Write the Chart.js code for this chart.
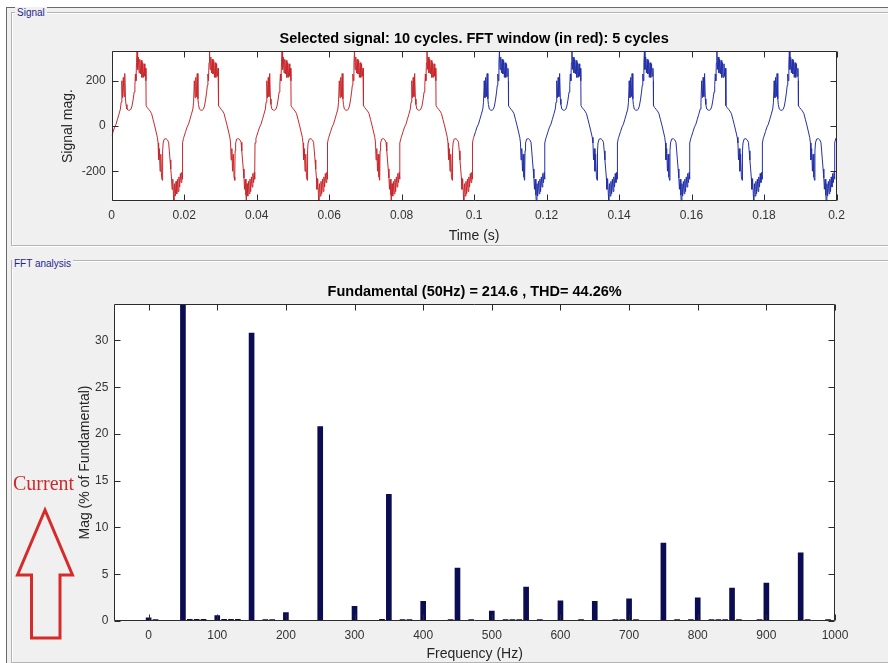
<!DOCTYPE html>
<html><head><meta charset="utf-8">
<script src="https://cdn.jsdelivr.net/npm/chart.js@4.4.1/dist/chart.umd.min.js"></script>
<style>
html,body{margin:0;padding:0;background:#fff;}
body{width:888px;height:663px;position:relative;overflow:hidden;font-family:"Liberation Sans",Arial,sans-serif;}
#frame{position:absolute;left:6px;top:7px;width:890px;height:660px;background:#f0f0f0;border-top:1px solid #6a6a6a;border-left:1px solid #6a6a6a;}
.panel{position:absolute;border:1px solid #b4b4b4;box-shadow:inset 1px 1px 0 #ffffff,1px 1px 0 #ffffff;}
.plabel{position:absolute;font-size:10px;color:#1f1f8f;background:#f0f0f0;padding:0 2px;line-height:11px;white-space:nowrap;}
canvas{position:absolute;left:0;}
svg{position:absolute;left:0;top:0;pointer-events:none;}
</style></head>
<body>
<div id="frame"></div>
<div class="panel" style="left:11px;top:12px;width:900px;height:232px;"></div>
<div class="plabel" style="left:15px;top:7px;">Signal</div>
<div class="panel" style="left:11px;top:260px;width:900px;height:401px;"></div>
<div class="plabel" style="left:12px;top:258px;">FFT analysis</div>
<canvas id="sig" width="888" height="250" style="top:0px;"></canvas>
<canvas id="fft" width="888" height="413" style="top:250px;"></canvas>
<svg width="888" height="663">
  <text x="13" y="490" font-family="Liberation Serif, Times New Roman, serif" font-size="20" fill="#cc2b2b">Current</text>
  <polygon points="45,510 17.5,575 31.5,575 31.5,638 60,638 60,575 72.5,575" fill="none" stroke="#d62b2b" stroke-width="3" stroke-linejoin="miter"/>
</svg>
<script>
// ---------- Signal panel data (one period, in ms) ----------
const cycleTimeMs = [0.0,0.4,0.8,1.2,1.6,2.0,2.4,2.6,2.8,3.0,3.2,3.4,3.6,3.8,3.95,4.2,4.6,5.0,5.3,5.6,5.9,6.2,6.4,6.55,6.7,6.85,7.0,7.15,7.35,7.55,7.75,7.95,8.15,8.35,8.55,8.75,8.95,9.15,9.35,9.45,9.5,9.8,10.2,10.6,11.0,11.4,11.8,12.2,12.6,12.8,12.95,13.15,13.35,13.55,13.75,13.95,14.05,14.2,14.5,15.0,15.4,15.7,15.9,16.1,16.3,16.5,16.65,16.85,17.05,17.15,17.35,17.55,17.75,17.95,18.15,18.35,18.55,18.75,18.95,19.15,19.35,19.45,19.55,19.8];
const cycleValue  = [-45,-25,-5,8,30,52,75,105,200,125,215,130,232,120,95,75,70,70,74,88,115,150,180,230,200,280,332,250,305,235,295,230,290,215,280,215,275,220,255,200,90,82,74,66,55,30,5,-22,-50,-75,-150,-100,-200,-125,-225,-240,-110,-75,-58,-56,-62,-72,-110,-150,-190,-230,-280,-235,-305,-332,-255,-310,-245,-300,-235,-290,-225,-270,-210,-250,-205,-235,-75,-55];
const cycleStartsS = [0,0.02,0.04,0.06,0.08,0.1,0.12,0.14,0.16,0.18];
const fftWindowEndS = 0.1;
const signalEndTimeS = 0.2;
const signalEndValue = -60;
const timeTicks = [0,0.02,0.04,0.06,0.08,0.1,0.12,0.14,0.16,0.18,0.2];
const signalTicks = [-200,0,200];

// ---------- FFT panel data ----------
const freqHz = [0,10,50,60,70,80,100,110,120,130,150,170,180,200,250,300,340,350,370,380,400,440,450,470,500,520,530,540,550,570,600,630,650,680,690,700,710,750,770,790,800,820,830,840,850,860,890,900,950,960,990];
const magPct = [0.35,0.15,100,0.18,0.18,0.18,0.57,0.18,0.18,0.18,30.8,0.15,0.15,0.89,20.8,1.57,0.18,13.55,0.15,0.15,2.1,0.15,5.66,0.15,1.07,0.15,0.15,0.15,3.63,0.15,2.17,0.15,2.1,0.15,0.15,2.38,0.15,8.32,0.15,0.15,2.49,0.15,0.15,0.15,3.52,0.15,0.15,4.06,7.29,0.15,0.15];
const freqTicks = [0,100,200,300,400,500,600,700,800,900,1000];
const magTicks = [0,5,10,15,20,25,30];

const FONT = "'Liberation Sans', Arial, sans-serif";
const TICK_COLOR = '#333333';

const plotBg = {id:'plotBg', beforeDraw(chart){
  const {ctx, chartArea:a} = chart;
  ctx.save(); ctx.fillStyle = '#ffffff';
  ctx.fillRect(a.left, a.top, a.right-a.left, a.bottom-a.top); ctx.restore();
}};
const matlabBox = {id:'matlabBox', afterDraw(chart){
  const {ctx, chartArea:a, scales} = chart;
  const L = Math.round(a.left)+0.5, R = Math.round(a.right)-0.5, T = Math.round(a.top)+0.5, B = Math.round(a.bottom)-0.5;
  const len = 6;
  ctx.save(); ctx.strokeStyle = '#2b2b2b'; ctx.lineWidth = 1;
  ctx.beginPath(); ctx.rect(L, T, R-L, B-T);
  scales.x.ticks.forEach(t => { const px = Math.round(scales.x.getPixelForValue(t.value))+0.5;
    ctx.moveTo(px, B); ctx.lineTo(px, B-len); ctx.moveTo(px, T); ctx.lineTo(px, T+len); });
  scales.y.ticks.forEach(t => { const py = Math.round(scales.y.getPixelForValue(t.value))+0.5;
    ctx.moveTo(L, py); ctx.lineTo(L+len, py); ctx.moveTo(R, py); ctx.lineTo(R-len, py); });
  ctx.stroke(); ctx.restore();
}};

function fixedTicks(arr){ return (s) => { s.ticks = arr.map(v => ({value:v})); }; }

// build signal series from the read period
const redPts = [], bluePts = [];
cycleStartsS.forEach(off => {
  cycleTimeMs.forEach((ms, i) => {
    const t = +(off + ms/1000).toFixed(6);
    const p = {x:t, y:cycleValue[i]};
    if (t <= fftWindowEndS) redPts.push(p);
    if (t >= fftWindowEndS) bluePts.push(p);
  });
});
bluePts.push({x:signalEndTimeS, y:signalEndValue});

new Chart(document.getElementById('sig'), {
  type:'line',
  data:{datasets:[
    {data:redPts, borderColor:'#c8282c', borderWidth:1, pointRadius:0, tension:0},
    {data:bluePts, borderColor:'#2330a8', borderWidth:1, pointRadius:0, tension:0}
  ]},
  options:{
    responsive:false, animation:false, events:[],
    layout:{padding:{left:0, right:51.5, top:0, bottom:0}},
    plugins:{legend:{display:false}, tooltip:{enabled:false},
      title:{display:true, fullSize:false, text:'Selected signal: 10 cycles. FFT window (in red): 5 cycles',
        color:'#000', font:{family:FONT, size:14.5, weight:'bold'}, padding:{top:29.8, bottom:3.5}}},
    scales:{
      x:{type:'linear', min:0, max:0.2, afterBuildTicks:fixedTicks(timeTicks),
        afterFit:(s)=>{s.height=48.7;},
        grid:{display:false, drawTicks:false}, border:{display:false},
        ticks:{color:TICK_COLOR, font:{family:FONT, size:12}, padding:7.5, maxRotation:0, autoSkip:false,
          callback:(v)=>String(+(+v).toFixed(2))},
        title:{display:true, text:'Time (s)', color:'#262626', font:{family:FONT, size:14}, padding:{top:0, bottom:5.9}}},
      y:{type:'linear', min:-333, max:333, afterBuildTicks:fixedTicks(signalTicks),
        afterFit:(s)=>{s.width=111.7;},
        grid:{display:false, drawTicks:false}, border:{display:false},
        ticks:{color:TICK_COLOR, font:{family:FONT, size:12}, padding:6, callback:(v)=>String(v)},
        title:{display:true, text:'Signal mag.', color:'#262626', font:{family:FONT, size:14}, padding:{top:60.1, bottom:0}}}
    }
  },
  plugins:[plotBg, matlabBox]
});

new Chart(document.getElementById('fft'), {
  type:'bar',
  data:{datasets:[{data:freqHz.map((f,i)=>({x:f, y:magPct[i]})), backgroundColor:'#0c0c52', borderWidth:0, barThickness:5}]},
  options:{
    responsive:false, animation:false, events:[],
    layout:{padding:{left:0, right:53, top:0, bottom:0}},
    plugins:{legend:{display:false}, tooltip:{enabled:false},
      title:{display:true, fullSize:false, text:'Fundamental (50Hz) = 214.6 , THD= 44.26%',
        color:'#000', font:{family:FONT, size:14.5, weight:'bold'}, padding:{top:33.3, bottom:3.3}}},
    scales:{
      x:{type:'linear', min:-50, max:1000, offset:false, afterBuildTicks:fixedTicks(freqTicks),
        afterFit:(s)=>{s.height=42;},
        grid:{display:false, drawTicks:false, offset:false}, border:{display:false},
        ticks:{color:TICK_COLOR, font:{family:FONT, size:12}, padding:7.8, maxRotation:0, autoSkip:false,
          callback:(v)=>String(v)},
        title:{display:true, text:'Frequency (Hz)', color:'#262626', font:{family:FONT, size:14}, padding:{top:0, bottom:0}}},
      y:{type:'linear', min:0, max:33.9, afterBuildTicks:fixedTicks(magTicks),
        afterFit:(s)=>{s.width=114.3;},
        grid:{display:false, drawTicks:false}, border:{display:false},
        ticks:{color:TICK_COLOR, font:{family:FONT, size:12}, padding:6, callback:(v)=>String(v)},
        title:{display:true, text:'Mag (% of Fundamental)', color:'#262626', font:{family:FONT, size:14}, padding:{top:76.6, bottom:0}}}
    }
  },
  plugins:[plotBg, matlabBox]
});
</script>
</body></html>
